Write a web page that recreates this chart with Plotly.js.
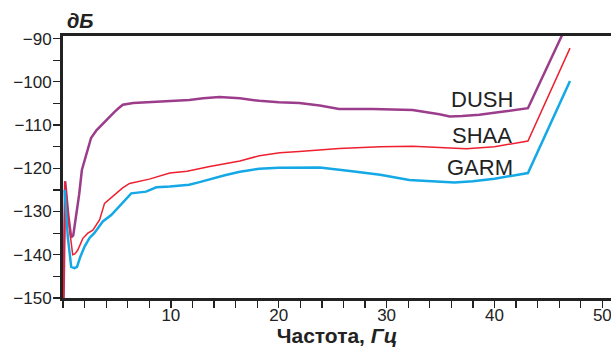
<!DOCTYPE html>
<html><head><meta charset="utf-8">
<script src="https://cdn.plot.ly/plotly-3.0.1.min.js"></script>
<style>html,body{margin:0;padding:0;background:#fff}#chart{width:611px;height:347px}</style>
</head><body><div id="chart"></div>
<script>
const seriesNames = ['DUSH', 'SHAA', 'GARM'];
const dushX = [0.05,0.2,0.5,0.76,0.95,1.22,1.5,1.75,2.2,2.6,3.1,3.7,4.3,4.8,5.2,5.55,6.5,8.0,10,11.7,13,14.5,16.4,18.2,20,21.9,23.8,25.6,28.7,31.2,32.4,34.9,35.85,37,38.6,40.5,43.1,46.3];
const dushY = [-150,-123,-131,-136,-135.5,-131.2,-126,-120.4,-116.5,-113,-111.2,-109.6,-108.1,-106.9,-106,-105.3,-104.9,-104.7,-104.4,-104.2,-103.8,-103.5,-103.8,-104.4,-104.7,-104.9,-105.5,-106.3,-106.3,-106.4,-106.5,-107.5,-108,-107.9,-107.6,-107.0,-106.1,-89];
const shaaX = [0.05,0.2,0.5,0.9,1.1,1.37,1.84,2.3,2.77,3.4,3.85,4.93,5.5,6.17,7.7,8.0,9.9,11.5,13.6,16.4,18.2,20.1,21.9,23.8,25.6,29.4,32.4,34.9,37.4,40,43.1,47.0];
const shaaY = [-150,-123,-132,-140,-139.8,-138.9,-136.2,-135,-134.3,-131.9,-128.1,-125.8,-124.6,-123.5,-122.7,-122.5,-121.1,-120.7,-119.6,-118.3,-117.1,-116.4,-116.1,-115.8,-115.4,-115.0,-114.9,-115.2,-115.5,-115.0,-113.7,-92.2];
const garmX = [0.15,0.45,0.76,1.07,1.3,1.6,2.0,2.46,2.9,3.69,4.47,5.5,6.33,7.7,8.65,9.9,11.7,12.66,13.6,15,16.4,18.2,20,21.9,23.8,26.6,29.4,32.1,34.9,36.3,38,40,43.1,47.0];
const garmY = [-125,-136,-142.8,-143.1,-142.8,-140.5,-138.1,-136.1,-135,-132.3,-130.8,-128,-125.8,-125.4,-124.4,-124.2,-123.8,-123.2,-122.5,-121.6,-120.8,-120.1,-119.9,-119.8,-119.8,-120.6,-121.5,-122.7,-123.2,-123.3,-123.0,-122.4,-121.1,-99.8];
const labelX = [38.87, 38.8, 38.7];
const labelY = [-104.0, -112.3, -119.7];
const xTickVals = [0, 10, 20, 30, 40, 50];
const xTickText = ['', '10', '20', '30', '40', '50'];
const yTickVals = [-150, -140, -130, -120, -110, -100, -90];
const yTickText = ['\u2212150', '\u2212140', '\u2212130', '\u2212120', '\u2212110', '\u2212100', '\u221290'];

const colors = ['#9b3d8b', '#ee2030', '#14a9e6'];
const widths = [2.5, 1.5, 2.5];
const xs = [dushX, shaaX, garmX];
const ys = [dushY, shaaY, garmY];

const traces = seriesNames.map((n, i) => ({
  x: xs[i], y: ys[i], name: n, type: 'scatter', mode: 'lines',
  line: {color: colors[i], width: widths[i]}, hoverinfo: 'skip'
}));

const fam = 'Liberation Sans, Arial, sans-serif';
const annotations = seriesNames.map((n, i) => ({
  x: labelX[i], y: labelY[i], xref: 'x', yref: 'y', text: n, showarrow: false,
  font: {family: fam, size: 22, color: '#222'}
}));
annotations.push({
  x: (65 - 63) / 548, y: 1 + 15 / 262.5, xref: 'paper', yref: 'paper',
  text: '<b><i>дБ</i></b>', showarrow: false,
  xanchor: 'left', yanchor: 'middle',
  font: {family: fam, size: 20, color: '#222'}
});

const axFont = {family: fam, size: 17, color: '#222'};

const layout = {
  width: 611, height: 347,
  margin: {l: 63, r: 0, t: 36, b: 48.5},
  paper_bgcolor: '#fff', plot_bgcolor: '#fff',
  showlegend: false,
  font: axFont,
  xaxis: {
    range: [0, 50.8], showgrid: false, zeroline: false,
    showline: true, linecolor: '#222', linewidth: 3, mirror: true,
    tickmode: 'array', tickvals: xTickVals, ticktext: xTickText,
    ticks: 'outside', ticklen: 7, tickwidth: 1.3, tickcolor: '#222',
    ticklabeloverflow: 'allow', ticklabelstandoff: -7,
    minor: {tickmode: 'linear', tick0: 0, dtick: 2, ticks: 'outside', ticklen: 7, tickwidth: 1.3, tickcolor: '#222', showgrid: false},
    tickfont: axFont,
    title: {text: '<b>Частота, <i>Гц</i></b>', font: {family: fam, size: 21, color: '#222'}, standoff: 0}
  },
  yaxis: {
    range: [-150, -89.4], showgrid: false, zeroline: false,
    showline: true, linecolor: '#222', linewidth: 3,
    tickmode: 'array', tickvals: yTickVals, ticktext: yTickText,
    ticks: 'outside', ticklen: 7, tickwidth: 1.3, tickcolor: '#222',
    ticklabelstandoff: -2,
    minor: {tickmode: 'linear', tick0: -150, dtick: 5, ticks: 'outside', ticklen: 7, tickwidth: 1.3, tickcolor: '#222', showgrid: false},
    tickfont: axFont
  },
  annotations: annotations
};

Plotly.newPlot('chart', traces, layout, {staticPlot: true, displayModeBar: false});
</script></body></html>
